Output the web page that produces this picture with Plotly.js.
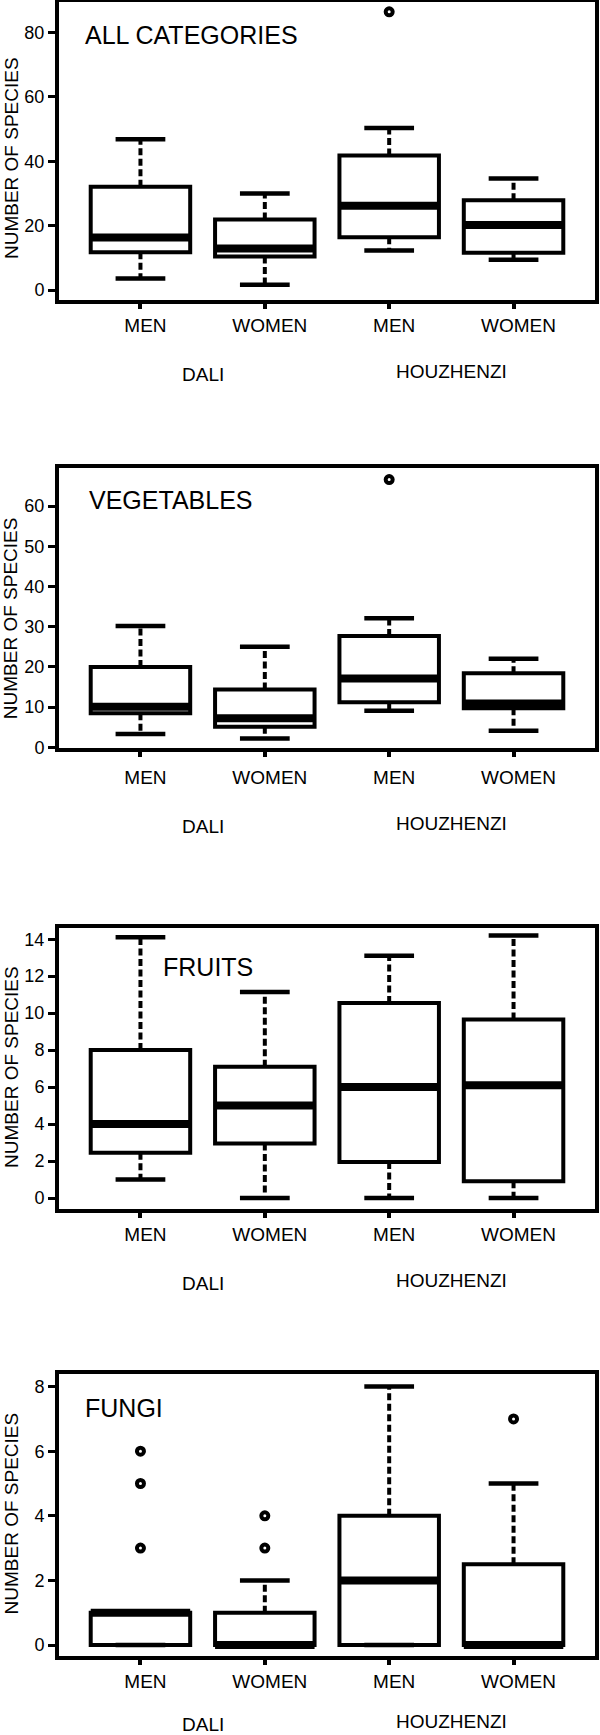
<!DOCTYPE html>
<html><head><meta charset="utf-8">
<script src="https://cdn.plot.ly/plotly-3.0.1.min.js"></script>
<style>html,body{margin:0;padding:0;background:#fff}#chart{width:600px;height:1735px}</style>
</head><body><div id="chart"></div>
<script>
// ---------- data ----------
const categories = ['MEN', 'WOMEN', 'MEN', 'WOMEN'];
const categoryPositions = [0, 1, 2, 3];
const groupLabels = ['DALI', 'HOUZHENZI'];
const groupPositions = [0.5, 2.5];
const panelTitles = ['ALL CATEGORIES', 'VEGETABLES', 'FRUITS', 'FUNGI'];
const yAxisTitle = 'NUMBER OF SPECIES';

// ALL CATEGORIES
const allLower  = [3.6, 1.6, 12.3, 9.4];
const allQ1     = [11.7, 10.4, 16.4, 11.6];
const allMedian = [16.3, 12.9, 26.2, 20.2];
const allQ3     = [32.1, 21.9, 41.8, 27.9];
const allUpper  = [46.8, 30.0, 50.3, 34.6];
const allOutlierX = [2];
const allOutlierY = [86.4];

// VEGETABLES
const vegLower  = [3.3, 2.2, 9.1, 4.1];
const vegQ1     = [8.5, 5.1, 11.2, 9.7];
const vegMedian = [10.1, 7.2, 17.1, 10.9];
const vegQ3     = [20.0, 14.4, 27.7, 18.4];
const vegUpper  = [30.2, 25.0, 32.1, 22.0];
const vegOutlierX = [2];
const vegOutlierY = [66.6];

// FRUITS
const fruLower  = [1.0, 0, 0, 0];
const fruQ1     = [2.45, 2.95, 1.95, 0.9];
const fruMedian = [4.0, 5.0, 6.0, 6.1];
const fruQ3     = [8.0, 7.1, 10.55, 9.65];
const fruUpper  = [14.1, 11.15, 13.1, 14.2];
const fruOutlierX = [];
const fruOutlierY = [];

// FUNGI
const funLower  = [0, 0, 0, 0];
const funQ1     = [0, 0, 0, 0];
const funMedian = [1, 0, 2, 0];
const funQ3     = [1, 1, 4, 2.5];
const funUpper  = [1, 2, 8, 5];
const funOutlierX = [0, 0, 0, 1, 1, 3];
const funOutlierY = [6, 5, 3, 4, 3, 7];

// y-axis ranges / tick steps
const yRanges = [[-3.1, 89.6], [-0.05, 69.4], [-0.595, 14.59], [-0.34, 8.38]];
const yTickSteps = [20, 10, 2, 2];

// ---------- build ----------
const panels = [
  {lower: allLower, q1: allQ1, median: allMedian, q3: allQ3, upper: allUpper, ox: allOutlierX, oy: allOutlierY},
  {lower: vegLower, q1: vegQ1, median: vegMedian, q3: vegQ3, upper: vegUpper, ox: vegOutlierX, oy: vegOutlierY},
  {lower: fruLower, q1: fruQ1, median: fruMedian, q3: fruQ3, upper: fruUpper, ox: fruOutlierX, oy: fruOutlierY},
  {lower: funLower, q1: funQ1, median: funMedian, q3: funQ3, upper: funUpper, ox: funOutlierX, oy: funOutlierY}
];

const H = 1735;
const FONT = 'Liberation Sans, Arial, Helvetica, sans-serif';
// frame pixel positions (top, bottom) per panel
const frames = [[1.5, 300], [468.3, 747.5], [928.3, 1209], [1374.3, 1656]];
const BOXW = 0.8, CAPW = 0.4;

const traces = [];
const layout = {
  width: 600, height: H,
  margin: {l: 58.7, r: 5, t: 0, b: 0, pad: 0},
  paper_bgcolor: '#fff', plot_bgcolor: '#fff',
  showlegend: false,
  font: {family: FONT, color: '#000'},
  annotations: []
};

const titleX = [0.0448, 0.0522, 0.190, 0.0448];
const titleY = [0.888, 0.886, 0.863, 0.879];
const yTitleShift = [-7, -10, 2, 2];
const groupShift = [-74, -79, -74, -68];
const xLabelStandoff = [0, 5, 0, 0];

panels.forEach((p, i) => {
  const n = i === 0 ? '' : String(i + 1);
  const xa = 'x' + n, ya = 'y' + n;

  const wx = [], wy = [];
  const cx = [], cy = [];
  const mx = [], my = [];
  categoryPositions.forEach((pos, j) => {
    wx.push(pos, pos, null, pos, pos, null);
    wy.push(p.q3[j], p.upper[j], null, p.q1[j], p.lower[j], null);
    cx.push(pos - CAPW / 2, pos + CAPW / 2, null, pos - CAPW / 2, pos + CAPW / 2, null);
    cy.push(p.upper[j], p.upper[j], null, p.lower[j], p.lower[j], null);
    mx.push(pos - BOXW / 2, pos + BOXW / 2, null);
    my.push(p.median[j], p.median[j], null);
  });
  // dashed whiskers
  traces.push({type: 'scatter', mode: 'lines', x: wx, y: wy, xaxis: xa, yaxis: ya,
    line: {color: '#000', width: 4, dash: '7px,3.5px'}, hoverinfo: 'skip'});
  // whisker caps
  traces.push({type: 'scatter', mode: 'lines', x: cx, y: cy, xaxis: xa, yaxis: ya,
    line: {color: '#000', width: 4.5}, hoverinfo: 'skip'});
  // boxes
  traces.push({type: 'box', x: categoryPositions, q1: p.q1, median: p.median, q3: p.q3,
    lowerfence: p.q1, upperfence: p.q3, width: BOXW, whiskerwidth: 0, boxpoints: false,
    xaxis: xa, yaxis: ya, fillcolor: '#fff', line: {color: '#000', width: 4}});
  // thick medians
  traces.push({type: 'scatter', mode: 'lines', x: mx, y: my, xaxis: xa, yaxis: ya,
    line: {color: '#000', width: 8}, hoverinfo: 'skip'});
  // outliers
  if (p.ox.length) {
    traces.push({type: 'scatter', mode: 'markers', x: p.ox, y: p.oy, xaxis: xa, yaxis: ya,
      marker: {symbol: 'circle-open', size: 7, color: '#000', line: {width: 4, color: '#000'}}});
  }

  const [top, bot] = frames[i];
  layout['xaxis' + n] = {
    domain: [0, 1], anchor: ya, range: [-0.655, 3.655],
    tickmode: 'array', tickvals: categoryPositions, ticktext: categories,
    ticks: 'outside', ticklen: 5, tickwidth: 4, tickcolor: '#000',
    showline: true, mirror: true, linewidth: 4, linecolor: '#000',
    showgrid: false, zeroline: false, ticklabelshift: 5, ticklabelstandoff: xLabelStandoff[i],
    tickfont: {size: 19, family: FONT, color: '#000'}, fixedrange: true
  };
  layout['yaxis' + n] = {
    domain: [1 - bot / H, 1 - top / H], anchor: xa, range: yRanges[i],
    tickmode: 'linear', tick0: 0, dtick: yTickSteps[i],
    ticks: 'outside', ticklen: 7, tickwidth: 3, tickcolor: '#000',
    showline: true, mirror: true, linewidth: 4, linecolor: '#000',
    showgrid: false, zeroline: false,
    tickfont: {size: 18, family: FONT, color: '#000'}, fixedrange: true
  };

  // panel title
  layout.annotations.push({text: panelTitles[i], xref: 'paper', yref: ya + ' domain',
    x: titleX[i], y: titleY[i], xanchor: 'left', yanchor: 'middle', showarrow: false,
    font: {size: 25, family: FONT, color: '#000'}});
  // y-axis title
  layout.annotations.push({text: yAxisTitle, xref: 'paper', yref: ya + ' domain',
    x: 0, y: 0.5, xshift: -47.7, yshift: yTitleShift[i], textangle: -90,
    xanchor: 'center', yanchor: 'middle', showarrow: false,
    font: {size: 19, family: FONT, color: '#000'}});
  // group labels
  groupLabels.forEach((g, k) => {
    layout.annotations.push({text: g, xref: xa, yref: ya + ' domain',
      x: groupPositions[k], y: 0, yshift: groupShift[i] + (k === 1 ? 3 : 0),
      xanchor: 'center', yanchor: 'middle', showarrow: false,
      font: {size: 19, family: FONT, color: '#000'}});
  });
});

Plotly.newPlot('chart', traces, layout, {displayModeBar: false, staticPlot: true});
</script>
</body></html>
